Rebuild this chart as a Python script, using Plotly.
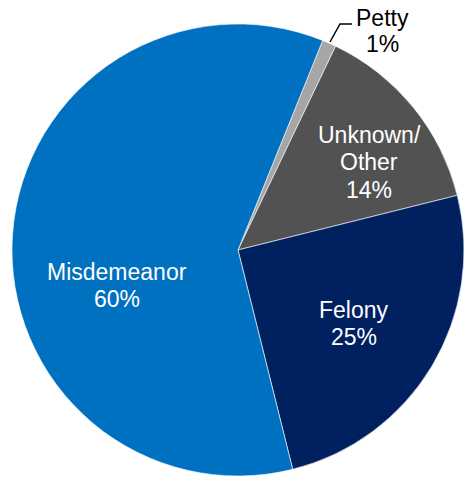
import plotly.graph_objects as go

# Case type shares (%), listed clockwise starting just right of 12 o'clock
categories = ["Petty", "Unknown/Other", "Felony", "Misdemeanor"]
shares = [1, 14, 25, 60]
slice_colors = ["#A6A6A6", "#525252", "#002060", "#0070C0"]

W, H = 464, 477
FONT = "Liberation Sans, Arial, sans-serif"

fig = go.Figure(
    go.Pie(
        labels=categories,
        values=shares,
        sort=False,
        direction="clockwise",
        rotation=22,
        marker=dict(colors=slice_colors, line=dict(color="white", width=0.6)),
        textinfo="none",
        hoverinfo="label+percent",
        showlegend=False,
        domain=dict(x=[12 / W, 1], y=[0, 1 - 23 / H]),
    )
)

# Label placement (pixel centers of each text line) and text colour per slice
label_pos = {
    "Petty": (382, [18, 44], "black"),
    "Unknown/Other": (369, [135, 162, 190], "white"),
    "Felony": (354, [310, 337], "white"),
    "Misdemeanor": (117, [272, 299], "white"),
}

for name, val in zip(categories, shares):
    lines = name.replace("/", "/\n").split("\n") + [f"{val}%"]
    cx, ys, color = label_pos[name]
    for line, py in zip(lines, ys):
        fig.add_annotation(
            x=cx / W, y=1 - py / H, xref="paper", yref="paper",
            text=line, showarrow=False, xanchor="center", yanchor="middle",
            font=dict(family=FONT, size=23, color=color),
        )

# Leader line for the small Petty slice
fig.add_shape(
    type="path",
    path=f"M {330 / W} {1 - 42 / H} L {340 / W} {1 - 24 / H} L {352 / W} {1 - 24 / H}",
    xref="paper", yref="paper",
    line=dict(color="black", width=1.5),
)

fig.update_layout(
    width=W, height=H,
    margin=dict(l=0, r=0, t=0, b=0),
    paper_bgcolor="white", plot_bgcolor="white",
)

fig.write_html("out.html")
